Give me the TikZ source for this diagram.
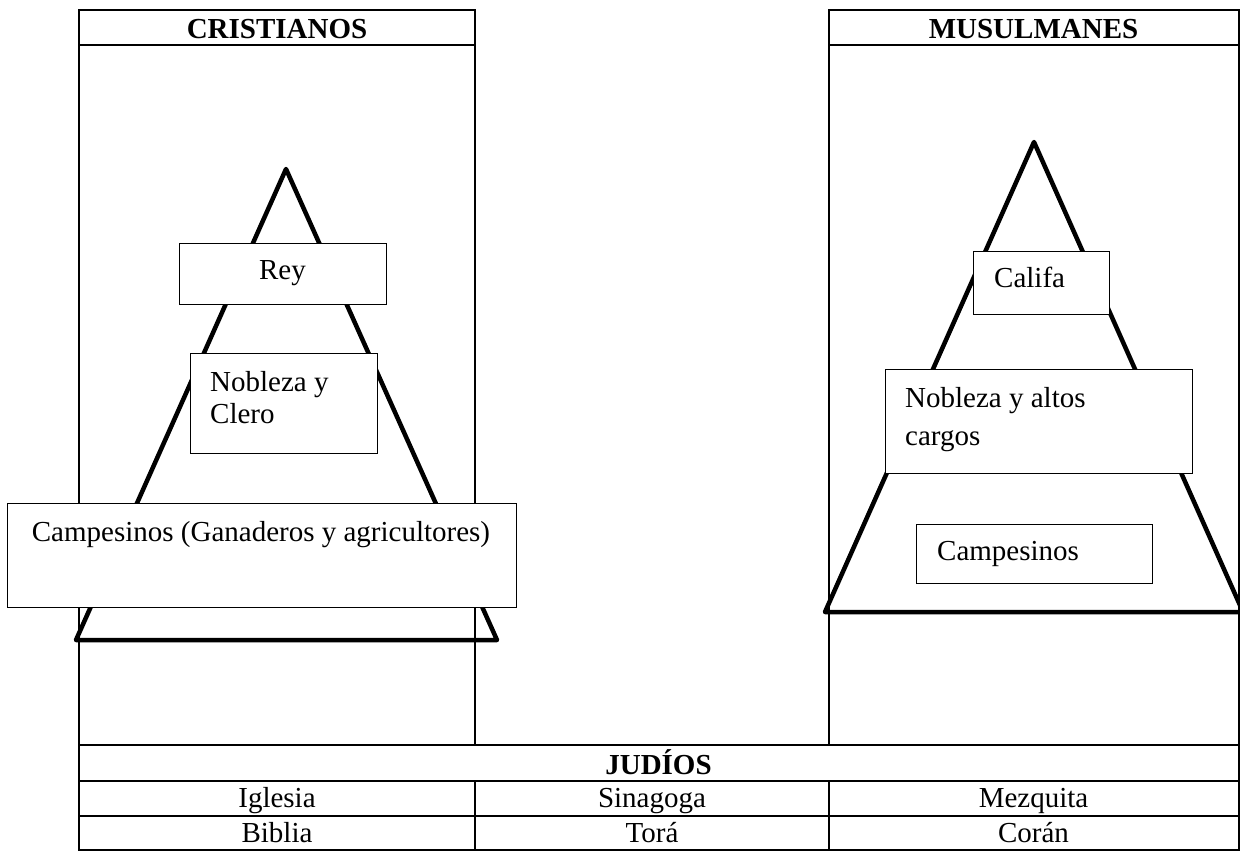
\documentclass[tikz,border=0pt]{standalone}
\usepackage{fontspec}
\setmainfont{Liberation Serif}
\begin{document}
\begin{tikzpicture}[x=1pt,y=-1pt,
  tline/.style={line width=2pt, line cap=rect},
  pyr/.style={line width=4.5pt, line join=round, line cap=round},
  box/.style={draw, line width=1.3pt, fill=white, inner sep=0pt, anchor=north west},
  txt/.style={inner sep=0pt, font=\fontsize{29}{33}\selectfont},
  hdr/.style={inner sep=0pt, font=\fontsize{29}{33}\selectfont\bfseries, anchor=base},
  cell/.style={txt, anchor=base}]
\useasboundingbox (0,0) rectangle (1240,855);
\clip (0,0) rectangle (1240,855);
% table lines
\draw[tline] (79,9.5) -- (475,9.5) (829,9.5) -- (1238.5,9.5);
\draw[tline] (79,45) -- (475,45) (829,45) -- (1238.5,45);
\draw[tline] (79,9.5) -- (79,850) (1238.5,9.5) -- (1238.5,850);
\draw[tline] (475,9.5) -- (475,745) (829,9.5) -- (829,745);
\draw[tline] (79,745) -- (1238.5,745) (79,781) -- (1238.5,781)
  (79,816) -- (1238.5,816) (79,850) -- (1238.5,850);
\draw[tline] (475,781) -- (475,850) (829,781) -- (829,850);
% pyramids
\draw[pyr] (286,169) -- (76,640) -- (497,640) -- cycle;
\draw[pyr] (1034,142) -- (825,612) -- (1243,612) -- cycle;
% boxes
\node[box, minimum width=207pt, minimum height=61pt] (rey) at (179,243) {};
\node[box, minimum width=187pt, minimum height=100pt] (nyc) at (190,353) {};
\node[box, minimum width=509pt, minimum height=104pt] (campl) at (7,503) {};
\node[box, minimum width=136pt, minimum height=63pt] (cal) at (973,251) {};
\node[box, minimum width=307pt, minimum height=104pt] (nac) at (885,369) {};
\node[box, minimum width=236pt, minimum height=59pt] (campr) at (916,524) {};
% box texts
\node[txt, anchor=base] (reyt) at (282.5,279) {Rey};
\node[txt, anchor=base west] (nyc1) at (210,391) {Nobleza y};
\node[txt, anchor=base west] (nyc2) at (210,423) {Clero};
\node[txt, anchor=base] (camplt) at (261,541) {Campesinos (Ganaderos y agricultores)};
\node[txt, anchor=base west] (calt) at (994,287) {Califa};
\node[txt, anchor=base west] (nac1) at (905,407) {Nobleza y altos};
\node[txt, anchor=base west] (nac2) at (905,445) {cargos};
\node[txt, anchor=base west] (camprt) at (937,560) {Campesinos};
% table texts
\node[hdr] (hcr) at (277,38.5) {CRISTIANOS};
\node[hdr] (hmu) at (1033.5,38.5) {MUSULMANES};
\node[hdr] (hju) at (658.5,774) {JUDÍOS};
\node[cell] (c11) at (277,807) {Iglesia};
\node[cell] (c12) at (652,807) {Sinagoga};
\node[cell] (c13) at (1033.5,807) {Mezquita};
\node[cell] (c21) at (277,842) {Biblia};
\node[cell] (c22) at (652,842) {Torá};
\node[cell] (c23) at (1033.5,842) {Corán};
\end{tikzpicture}
\end{document}
